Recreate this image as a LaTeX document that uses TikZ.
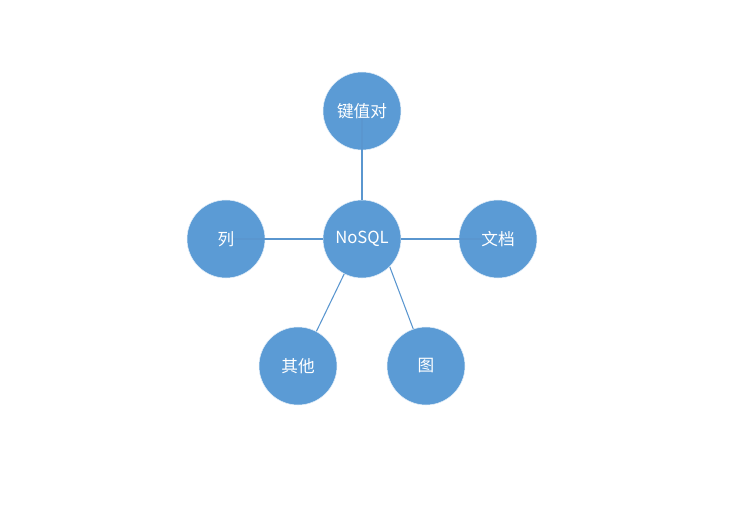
\documentclass[tikz,border=0pt]{standalone}
\usepackage{fontspec}
\newfontfamily\cjk{Noto Sans CJK SC}
\definecolor{accent}{HTML}{5B9BD5}
\definecolor{linec}{HTML}{5A96CF}
\begin{document}
\begin{tikzpicture}[x=0.75pt,y=-0.75pt,
  circ/.style={circle,fill=accent,draw=white!85!accent,line width=0.4pt,minimum size=58.5pt,inner sep=0pt},
  lbl/.style={text=white,font=\cjk\fontsize{12.5}{14}\selectfont,inner sep=0pt},
  conn/.style={draw=linec,line width=0.8pt}]
\useasboundingbox (0,0) rectangle (747,521);
\node[circ] (nosql) at (362,239) {};
\node[circ] (kv) at (362,111) {};
\node[circ] (lie) at (226,239) {};
\node[circ] (doc) at (498,239) {};
\node[circ] (other) at (298,366) {};
\node[circ] (graph) at (426,366) {};
\coordinate (kvend) at (362,118);
\coordinate (lieend) at (233,239);
\coordinate (docend) at (483,239);
\draw[conn] (nosql.north) -- (kvend);
\draw[conn] (nosql.west) -- (lieend);
\draw[conn] (nosql.east) -- (docend);
\draw[conn] (nosql.243) -- (other.62);
\draw[conn] (nosql.-45) -- (graph.109);
\node[lbl] (tnosql) at (nosql) {NoSQL};
\node[lbl] (tkv) at (kv) {键值对};
\node[lbl] (tlie) at (lie) {列};
\node[lbl] (tdoc) at (doc) {文档};
\node[lbl] (tother) at (other) {其他};
\node[lbl] (tgraph) at (graph) {图};
\end{tikzpicture}
\end{document}
